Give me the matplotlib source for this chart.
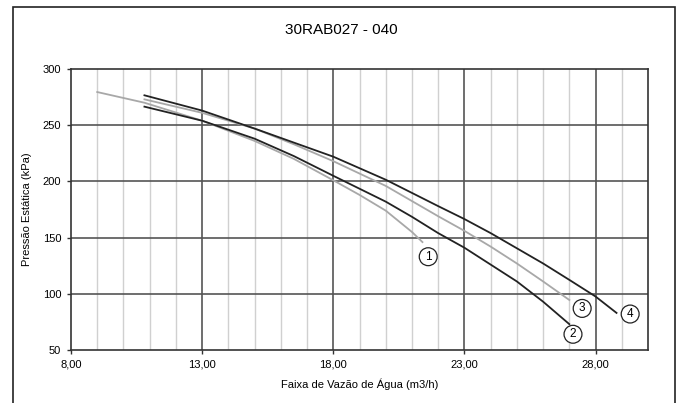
import matplotlib.pyplot as plt
from matplotlib.patches import Rectangle

plt.rcParams['font.family'] = ['Liberation Sans', 'DejaVu Sans']

# curva 1 (cinza)
x1 = [9.0, 10.8, 13.0, 15.0, 16.5, 18.0, 19.0, 20.0, 21.0, 21.4]
y1 = [279.5, 270.0, 254.0, 236.0, 220.0, 201.0, 188.0, 174.0, 155.0, 146.0]
# curva 2 (preta)
x2 = [10.8, 13.0, 15.0, 16.5, 18.0, 20.0, 21.0, 22.0, 23.0, 24.0, 25.0, 26.0, 27.0]
y2 = [266.5, 254.0, 238.0, 222.5, 205.0, 182.0, 168.5, 154.0, 141.0, 126.0, 111.0, 93.0, 73.0]
# curva 3 (cinza)
x3 = [10.8, 13.0, 15.0, 16.5, 18.0, 20.0, 22.0, 23.0, 24.0, 25.0, 26.0, 27.0]
y3 = [273.0, 261.0, 247.0, 233.0, 218.0, 196.0, 169.0, 156.0, 142.0, 127.0, 111.0, 94.5]
# curva 4 (preta)
x4 = [10.8, 13.0, 15.0, 16.5, 18.0, 20.0, 22.0, 23.0, 24.0, 25.0, 26.0, 27.0, 28.0, 28.8]
y4 = [276.6, 263.0, 247.0, 234.5, 222.0, 201.5, 178.0, 166.5, 154.0, 140.5, 127.0, 112.4, 97.6, 83.0]

curves = [(x1, y1, '#a8a8a8', '1', (21.62, 133)),
          (x2, y2, '#222222', '2', (27.14, 64)),
          (x3, y3, '#a8a8a8', '3', (27.49, 87)),
          (x4, y4, '#222222', '4', (29.32, 82))]

major_x = [8, 13, 18, 23, 28]
minor_x = [9, 10, 11, 12, 14, 15, 16, 17, 19, 20, 21, 22, 24, 25, 26, 27, 29]
yticks = [50, 100, 150, 200, 250, 300]

fig = plt.figure(figsize=(6.82, 4.03), dpi=100)
fig.patches.append(Rectangle((13 / 682, -0.05), 662 / 682, 1.05 - 7 / 403,
                             transform=fig.transFigure, fill=False,
                             edgecolor='#222222', linewidth=1.2))
ax = fig.add_axes([71 / 682, 1 - 350 / 403, 577 / 682, 281 / 403])

for xv in minor_x:
    ax.axvline(xv, color='#d0d0d0', linewidth=1.0, zorder=1)
for xv in major_x[1:]:
    ax.axvline(xv, color='#555555', linewidth=1.2, zorder=1)
for yv in yticks[1:-1]:
    ax.axhline(yv, color='#555555', linewidth=1.2, zorder=1)

for x, y, c, lab, pos in curves:
    ax.plot(x, y, color=c, linewidth=1.3, zorder=3)
    ax.text(pos[0], pos[1], lab, ha='center', va='center', fontsize=8.5,
            bbox=dict(boxstyle='circle,pad=0.25', fc='white', ec='#222222', lw=0.9),
            zorder=4)

ax.set_xlim(8, 30)
ax.set_ylim(50, 300)
ax.set_xticks(major_x)
ax.set_xticklabels([f'{v},00' for v in major_x])
ax.set_yticks(yticks)
ax.tick_params(labelsize=8, length=3, width=1, color='#333333', pad=4)
for s in ax.spines.values():
    s.set_color('#333333')
    s.set_linewidth(1.2)

ax.set_xlabel('Faixa de Vazão de Água (m3/h)', fontsize=8, labelpad=6)
ax.set_ylabel('Pressão Estática (kPa)', fontsize=8, labelpad=8)
fig.text(341 / 682, 1 - 30 / 403, '30RAB027 - 040', ha='center', va='center', fontsize=11)

plt.savefig('out.png', dpi=100)
